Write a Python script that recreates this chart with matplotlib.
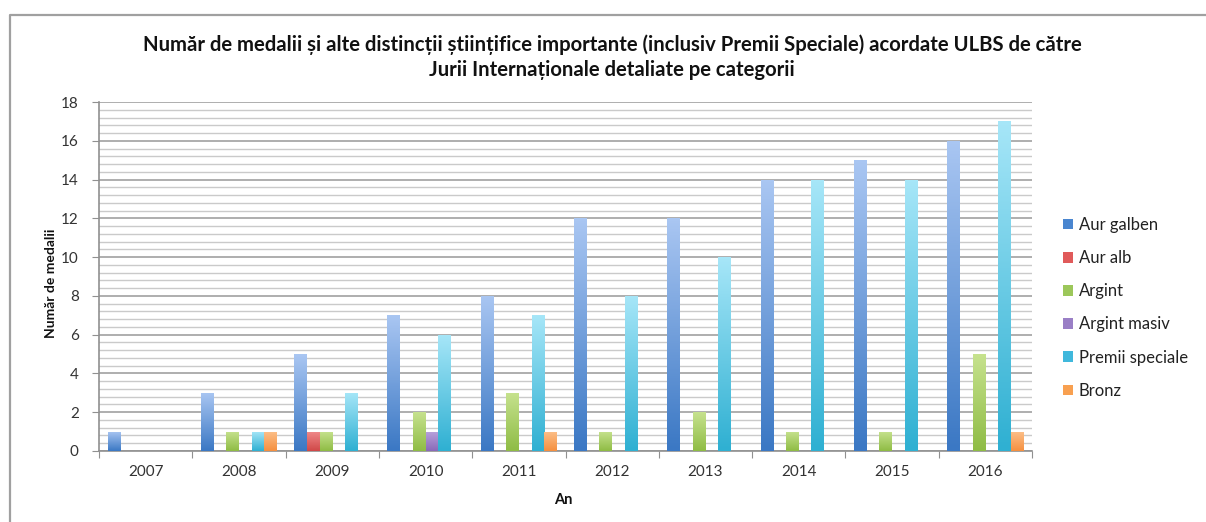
import numpy as np
import matplotlib
matplotlib.use("Agg")
import matplotlib.pyplot as plt
from matplotlib.colors import LinearSegmentedColormap
from matplotlib.lines import Line2D
from matplotlib.patches import Patch
from matplotlib.ticker import MultipleLocator, FixedLocator, NullFormatter, FixedFormatter

years = ["2007", "2008", "2009", "2010", "2011", "2012", "2013", "2014", "2015", "2016"]
series_names = ["Aur galben", "Aur alb", "Argint", "Argint masiv", "Premii speciale", "Bronz"]
aur_galben = [1, 3, 5, 7, 8, 12, 12, 14, 15, 16]
aur_alb = [0, 0, 1, 0, 0, 0, 0, 0, 0, 0]
argint = [0, 1, 1, 2, 3, 1, 2, 1, 1, 5]
argint_masiv = [0, 0, 0, 1, 0, 0, 0, 0, 0, 0]
premii_speciale = [0, 1, 3, 6, 7, 8, 10, 14, 14, 17]
bronz = [0, 1, 0, 0, 1, 0, 0, 0, 0, 1]
series_values = [aur_galben, aur_alb, argint, argint_masiv, premii_speciale, bronz]

# (dark bottom, light top, legend colour)
colors = [
    ("#3b78c4", "#a9c6f2", "#4a86d0"),
    ("#d04848", "#f08a8a", "#e05a5a"),
    ("#8fbc45", "#c6e28e", "#9cc75a"),
    ("#8a6ab8", "#b8a2dc", "#9a7fc6"),
    ("#2fb0d2", "#a6e6f8", "#40b8dc"),
    ("#f59040", "#fcc08a", "#f8a050"),
]

plt.rcParams['font.family'] = ['Lato', 'DejaVu Sans']

W, H = 1206, 522
fig = plt.figure(figsize=(W / 100, H / 100), dpi=100)
ax = fig.add_axes([99 / W, 1 - 451 / H, (1032 - 99) / W, (451 - 102) / H])

n_series = len(series_names)
bw = 0.136
x = np.arange(len(years))
grad = np.linspace(0, 1, 64).reshape(-1, 1)

for k, (name, vals) in enumerate(zip(series_names, series_values)):
    dark, light, lc = colors[k]
    cmap = LinearSegmentedColormap.from_list(name, [dark, light])
    pos = x + (k - (n_series - 1) / 2) * bw
    bars = ax.bar(pos, vals, width=bw, color="none", edgecolor="none", zorder=3)
    for rect in bars:
        h = rect.get_height()
        if h <= 0:
            continue
        x0 = rect.get_x()
        im = ax.imshow(grad, extent=[x0, x0 + rect.get_width(), 0, h], origin="lower",
                       aspect="auto", cmap=cmap, zorder=3, interpolation="bilinear")
        im.set_clip_path(rect)

ax.set_xlim(-0.5, len(years) - 0.5)
ax.set_ylim(0, 18)

ax.yaxis.set_major_locator(MultipleLocator(2))
ax.yaxis.set_minor_locator(MultipleLocator(0.4))
ax.grid(which="major", axis="y", color="#a8a8a8", linewidth=1.3, zorder=0)
ax.grid(which="minor", axis="y", color="#cacaca", linewidth=1.0, zorder=0)
ax.set_axisbelow(True)

ax.xaxis.set_major_locator(FixedLocator(np.arange(-0.5, len(years), 1.0)))
ax.xaxis.set_major_formatter(NullFormatter())
ax.xaxis.set_minor_locator(FixedLocator(x))
ax.xaxis.set_minor_formatter(FixedFormatter(years))
ax.tick_params(axis="x", which="major", length=5, color="#909090", direction="out")
ax.tick_params(axis="x", which="minor", length=0, pad=10, labelsize=11, labelcolor="#333333")
ax.tick_params(axis="y", which="major", length=5, color="#909090", labelsize=11,
               labelcolor="#333333", pad=9.5)
ax.tick_params(axis="y", which="minor", length=0)

for s in ["top", "right"]:
    ax.spines[s].set_visible(False)
for s in ["left", "bottom"]:
    ax.spines[s].set_color("#909090")
    ax.spines[s].set_linewidth(1.2)

ax.set_xlabel("An", fontsize=10.5, fontweight="bold", color="#111111")
ax.set_ylabel("Număr de medalii", fontsize=10, fontweight="bold", color="#111111")
ax.xaxis.set_label_coords(0.498, -0.12)
ax.yaxis.set_label_coords(-0.045, 0.48)

fig.text(612 / W, 1 - 45 / H,
         "Număr de medalii și alte distincții științifice importante (inclusiv Premii Speciale) acordate ULBS de către",
         ha="center", va="center", fontsize=14.6, fontweight="bold", color="#111111")
fig.text(612 / W, 1 - 70 / H, "Jurii Internaționale detaliate pe categorii",
         ha="center", va="center", fontsize=14.6, fontweight="bold", color="#111111")

handles = [Patch(facecolor=c[2], edgecolor="none") for c in colors]
leg = fig.legend(handles, series_names, loc="upper left",
                 bbox_to_anchor=(1048 / W, 1 - 202 / H), frameon=False,
                 handlelength=0.6, handleheight=0.6, handletextpad=0.35,
                 labelspacing=1.03, fontsize=12)
for t in leg.get_texts():
    t.set_color("#222222")

fig.add_artist(Line2D([10 / W, 10 / W, 1.0], [0.0, 1 - 15 / H, 1 - 15 / H],
                      transform=fig.transFigure, color="#a0a0a0", linewidth=1.6))

fig.savefig("out.png", dpi=100)
